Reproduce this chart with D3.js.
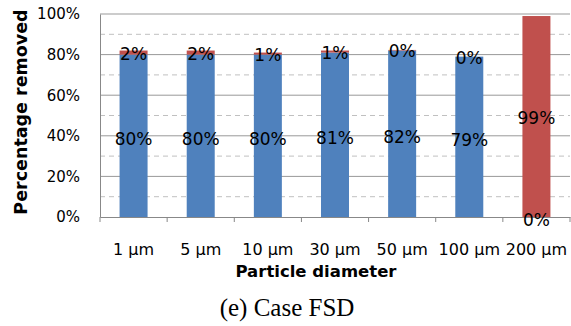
<!DOCTYPE html>
<html>
<head>
<meta charset="utf-8">
<script src="https://cdn.jsdelivr.net/npm/d3@7"></script>
<style>
  body { margin: 0; background: #fff; }
  svg { display: block; }
</style>
</head>
<body>
<svg width="571" height="326"></svg>
<script>
// данные графика
const categories = ["1 µm", "5 µm", "10 µm", "30 µm", "50 µm", "100 µm", "200 µm"];
const removedBlue = [80, 80, 80, 81, 82, 79, 0];
const removedRed = [2, 2, 1, 1, 0.3, 0, 99];
const yTicks = [0, 20, 40, 60, 80, 100];
const yMinor = [10, 30, 50, 70, 90];

const svg = d3.select("svg");
const area = { left: 100, right: 570, top: 14, bottom: 217 };

const scX = d3.scaleBand()
    .domain(categories)
    .range([area.left, area.right]);
const scY = d3.scaleLinear()
    .domain([0, 100])
    .range([area.bottom, area.top]);

// сетка
svg.append("g").selectAll("line")
    .data(yMinor)
    .enter().append("line")
    .attr("x1", area.left).attr("x2", area.right)
    .attr("y1", d => scY(d)).attr("y2", d => scY(d))
    .style("stroke", "#c0c0c0")
    .style("stroke-dasharray", "5,4")
    .style("stroke-width", 1);

svg.append("g").selectAll("line")
    .data(yTicks.filter(d => d > 0))
    .enter().append("line")
    .attr("x1", area.left).attr("x2", area.right)
    .attr("y1", d => scY(d)).attr("y2", d => scY(d))
    .style("stroke", "#999")
    .style("stroke-width", 1);

// столбцы
const barW = 28;
const stack = categories.map((c, i) => ({ label: c, blue: removedBlue[i], red: removedRed[i] }));

svg.append("g").selectAll("rect")
    .data(stack)
    .enter().append("rect")
    .attr("x", d => scX(d.label) + scX.bandwidth() / 2 - barW / 2)
    .attr("y", d => scY(d.blue))
    .attr("width", barW)
    .attr("height", d => scY(0) - scY(d.blue))
    .style("fill", "#4f81bd");

svg.append("g").selectAll("rect")
    .data(stack)
    .enter().append("rect")
    .attr("x", d => scX(d.label) + scX.bandwidth() / 2 - barW / 2)
    .attr("y", d => scY(d.blue + d.red))
    .attr("width", barW)
    .attr("height", d => scY(d.blue) - scY(d.blue + d.red))
    .style("fill", "#c0504d");

// оси
const axisY = d3.axisLeft(scY).tickValues(yTicks).tickFormat(d => d + "%").tickSize(0).tickPadding(20);
const gY = svg.append("g")
    .attr("transform", `translate(${area.left},0)`)
    .call(axisY);
gY.select(".domain").style("stroke", "#888");
gY.selectAll("text")
    .style("font-family", "DejaVu Sans")
    .style("font-size", "15px")
    .style("fill", "#000");

const axisX = d3.axisBottom(scX).tickSize(0).tickPadding(27);
const gX = svg.append("g")
    .attr("transform", `translate(0,${area.bottom})`)
    .call(axisX);
gX.select(".domain").style("stroke", "#888");
gX.selectAll("text")
    .style("font-family", "DejaVu Sans")
    .style("font-size", "16px")
    .style("fill", "#000");
// засечки между категориями
gX.selectAll(".sep")
    .data(d3.range(categories.length + 1))
    .enter().append("line")
    .attr("x1", i => area.left + i * scX.step())
    .attr("x2", i => area.left + i * scX.step())
    .attr("y1", 0).attr("y2", 5)
    .style("stroke", "#888");

// подписи значений
const fmt = v => Math.round(v) + "%";
const labelStyle = sel => sel
    .attr("text-anchor", "middle")
    .attr("dominant-baseline", "central")
    .style("font-family", "DejaVu Sans")
    .style("font-size", "17px")
    .style("fill", "#000");

svg.append("g").selectAll("text")
    .data(stack)
    .enter().append("text")
    .attr("x", d => scX(d.label) + scX.bandwidth() / 2)
    .attr("y", d => scY(d.blue / 2) + 3)
    .text(d => fmt(d.blue))
    .call(labelStyle);

svg.append("g").selectAll("text")
    .data(stack)
    .enter().append("text")
    .attr("x", d => scX(d.label) + scX.bandwidth() / 2)
    .attr("y", d => scY(d.blue + d.red / 2) + 1)
    .text(d => fmt(d.red))
    .call(labelStyle);

// подписи осей
svg.append("text")
    .attr("x", 316).attr("y", 277)
    .attr("text-anchor", "middle")
    .style("font-family", "DejaVu Sans")
    .style("font-weight", "bold")
    .style("font-size", "16.5px")
    .text("Particle diameter");

svg.append("text")
    .attr("transform", "translate(27,112) rotate(-90)")
    .attr("text-anchor", "middle")
    .style("font-family", "DejaVu Sans")
    .style("font-weight", "bold")
    .style("font-size", "17.5px")
    .text("Percentage removed");

svg.append("text")
    .attr("x", 287).attr("y", 316)
    .attr("text-anchor", "middle")
    .style("font-family", "Liberation Serif")
    .style("font-size", "25px")
    .text("(e) Case FSD");
</script>
</body>
</html>
